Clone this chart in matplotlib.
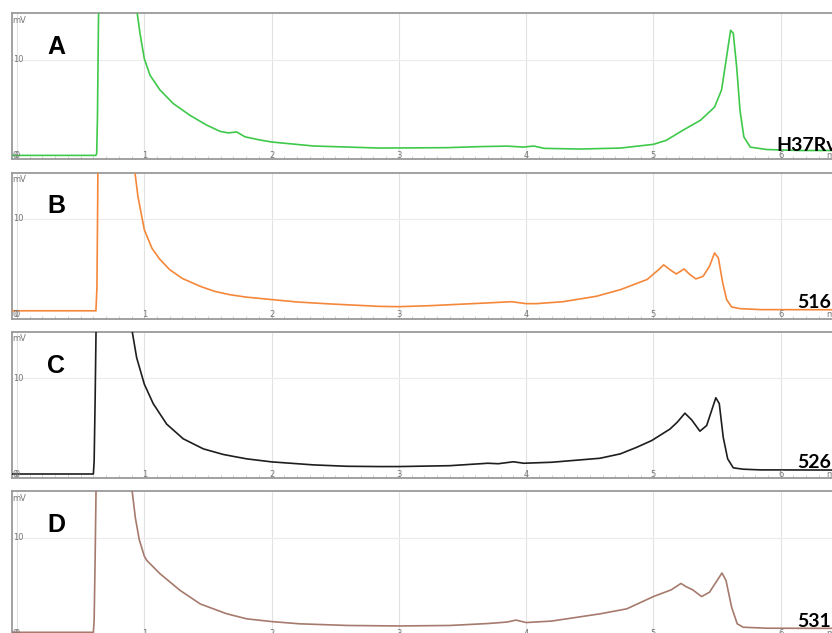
import numpy as np
import matplotlib
matplotlib.use("Agg")
import matplotlib.pyplot as plt

t_a = [-0.04, 0.3, 0.62, 0.626, 0.632, 0.64, 0.66, 0.75, 0.85, 0.92,
       0.945, 0.966, 1.0, 1.045, 1.123, 1.228, 1.359, 1.49, 1.595, 1.66,
       1.726, 1.791, 1.9, 2.0, 2.33, 2.85, 3.375, 3.64, 3.85, 3.98,
       4.06, 4.14, 4.42, 4.74, 5.0, 5.1, 5.23, 5.37, 5.48, 5.535,
       5.57, 5.606, 5.627, 5.654, 5.68, 5.71, 5.76, 5.89, 6.15, 6.55]
mv_a = [0.2, 0.2, 0.2, 0.4, 4, 14, 30, 45, 30, 17.5,
        14.7, 12.7, 10.1, 8.4, 6.9, 5.5, 4.3, 3.3, 2.66, 2.5,
        2.6, 2.1, 1.8, 1.57, 1.16, 0.95, 0.99, 1.1, 1.15, 1.05,
        1.16, 0.92, 0.85, 0.95, 1.33, 1.74, 2.76, 3.8, 5.15, 6.9,
        9.9, 13.0, 12.7, 9.2, 4.8, 2.1, 1.05, 0.8, 0.7, 0.7]

t_b = [-0.04, 0.3, 0.62, 0.628, 0.634, 0.64, 0.66, 0.75, 0.85, 0.9,
       0.927, 0.95, 1.0, 1.06, 1.12, 1.2, 1.3, 1.44, 1.55, 1.67,
       1.8, 2.0, 2.2, 2.46, 2.85, 3.0, 3.24, 3.69, 3.886, 4.0,
       4.08, 4.29, 4.55, 4.74, 4.95, 5.04, 5.08, 5.13, 5.18, 5.24,
       5.287, 5.333, 5.39, 5.44, 5.48, 5.51, 5.544, 5.575, 5.614, 5.68,
       5.84, 6.55]
mv_b = [0.6, 0.6, 0.6, 3, 12, 25, 40, 45, 30, 18,
        14.7, 12.3, 8.9, 7.0, 5.9, 4.8, 3.9, 3.1, 2.6, 2.25,
        2.0, 1.75, 1.5, 1.3, 1.05, 1.02, 1.12, 1.4, 1.53, 1.33,
        1.33, 1.53, 2.08, 2.76, 3.8, 4.8, 5.3, 4.8, 4.37, 4.88,
        4.3, 3.86, 4.13, 5.15, 6.52, 6.0, 3.45, 1.74, 0.99, 0.82,
        0.72, 0.7]

t_c = [-0.04, 0.3, 0.6, 0.606, 0.614, 0.626, 0.66, 0.75, 0.85, 0.906,
       0.94, 1.0, 1.07, 1.176, 1.306, 1.464, 1.62, 1.7, 1.804, 2.0,
       2.33, 2.59, 2.85, 3.0, 3.4, 3.7, 3.78, 3.9, 3.98, 4.2,
       4.58, 4.74, 4.87, 4.986, 5.13, 5.187, 5.247, 5.3, 5.365, 5.418,
       5.457, 5.49, 5.517, 5.548, 5.583, 5.627, 5.705, 5.84, 6.55]
mv_c = [0.2, 0.2, 0.2, 1.5, 8, 20, 40, 45, 30, 14.7,
        12.1, 9.4, 7.4, 5.3, 3.8, 2.77, 2.2, 2.0, 1.75, 1.44,
        1.13, 0.99, 0.96, 0.96, 1.05, 1.3, 1.25, 1.45, 1.3, 1.4,
        1.81, 2.26, 2.94, 3.62, 4.8, 5.5, 6.42, 5.74, 4.58, 5.16,
        6.7, 8.0, 7.4, 3.96, 1.75, 0.83, 0.69, 0.62, 0.6]

t_d = [-0.04, 0.3, 0.6, 0.606, 0.614, 0.626, 0.66, 0.75, 0.85, 0.905,
       0.93, 0.96, 1.0, 1.02, 1.123, 1.28, 1.44, 1.647, 1.804, 2.0,
       2.22, 2.6, 3.0, 3.4, 3.7, 3.85, 3.92, 4.0, 4.2, 4.58,
       4.79, 5.0, 5.14, 5.216, 5.255, 5.308, 5.378, 5.44, 5.5, 5.538,
       5.57, 5.614, 5.658, 5.705, 5.89, 6.55]
mv_d = [0.3, 0.3, 0.3, 1.5, 8, 20, 40, 45, 30, 14.7,
        12.0, 9.8, 8.1, 7.65, 6.3, 4.6, 3.2, 2.2, 1.68, 1.4,
        1.17, 1.0, 0.95, 1.0, 1.2, 1.35, 1.55, 1.3, 1.45, 2.19,
        2.7, 3.96, 4.65, 5.3, 4.98, 4.65, 3.96, 4.4, 5.6, 6.37,
        5.6, 2.87, 1.17, 0.82, 0.72, 0.7]

letras = ["A", "B", "C", "D"]
cepas = ["H37Rv", "516", "526", "531"]
colores = ["#3ec94b", "#f5873a", "#1e1e1e", "#a67a6c"]
x_ticks = [0, 1, 2, 3, 4, 5, 6]

series = [(t_a, mv_a), (t_b, mv_b), (t_c, mv_c), (t_d, mv_d)]

W, H = 832, 633
fig = plt.figure(figsize=(W / 100, H / 100), dpi=100)

gris = "#9a9a9a"
x0, x1 = -0.0393, 6.544
y0, y1 = -0.2, 14.74


def panel(i, t, mv):
    top = 13.3 + 159.3 * i
    bottom = top + 146
    ax = fig.add_axes([12 / W, 1 - bottom / H, (850 - 12) / W, 146 / H])
    ax.set_xlim(x0, x1)
    ax.set_ylim(y0, y1)

    for k in x_ticks:
        ax.axvline(k, color="#e2e2e2", lw=0.8, zorder=0)
    ax.axhline(10, color="#ececec", lw=0.8, zorder=0)

    ax.plot(t, mv, color=colores[i], lw=1.2, zorder=3)

    for s in ["top", "left", "bottom"]:
        ax.spines[s].set_color(gris)
        ax.spines[s].set_linewidth(1.3)
    ax.spines["right"].set_visible(False)

    ax.set_xticks([])
    ax.set_yticks([])
    ax.set_xticks(np.arange(0, 6.6, 0.1), minor=True)
    ax.tick_params(axis="x", which="minor", direction="in", length=2,
                   color="#c8c8c8", width=0.6)

    # etiquetas de los ejes dentro del grafico
    for k in x_ticks:
        ax.text(k, y0 + 0.38, str(k), ha="center", va="center",
                fontsize=6, color="#777777")
    ax.text(x0 + 0.005, y0 + 0.38, "0", ha="left", va="center",
            fontsize=6, color="#777777")
    ax.text(x0 + 0.005, 10, "10", ha="left", va="center",
            fontsize=6, color="#777777")
    ax.text(x0 + 0.005, y1 - 0.25, "mV", ha="left", va="top",
            fontsize=6, color="#777777")
    ax.text(6.36, y0 + 0.38, "min", ha="left", va="center",
            fontsize=6, color="#777777", zorder=2)

    ax.text(0.31, 11.3, letras[i], ha="center", va="center",
            fontsize=18, fontweight="bold", family="Liberation Sans")
    xl = 5.962 if i == 0 else 6.127
    yl = [1.25, 1.43, 1.37, 1.4][i]
    ax.text(xl, yl, cepas[i], ha="left", va="center", fontsize=14,
            fontweight="bold", family="Lato", zorder=4)
    return ax


for i, (t, mv) in enumerate(series):
    panel(i, t, mv)

plt.savefig("out.png", dpi=100)
plt.close()
